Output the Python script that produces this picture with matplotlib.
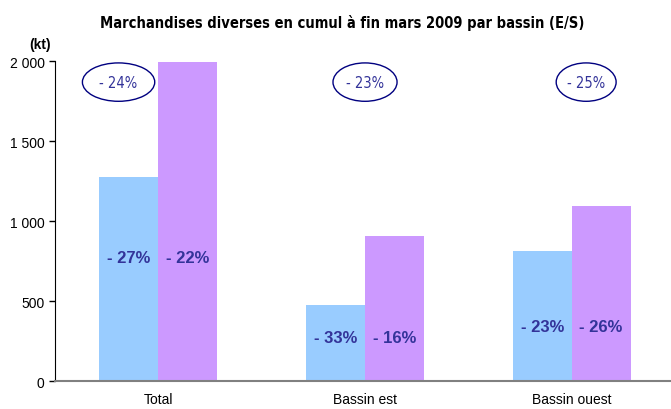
import matplotlib.pyplot as plt
from matplotlib.patches import Ellipse
import numpy as np

categories = ["Total", "Bassin est", "Bassin ouest"]
entrees = [1275, 475, 812]
sorties = [1995, 906, 1094]
lab_entrees = ["- 27%", "- 33%", "- 23%"]
lab_sorties = ["- 22%", "- 16%", "- 26%"]
lab_y = [775, 275, 344]
lab_total = ["- 24%", "- 23%", "- 25%"]
ell_w = [0.35, 0.31, 0.29]

plt.rcParams["font.family"] = ["Liberation Sans", "DejaVu Sans"]
narrow = dict(family="DejaVu Sans", fontstretch="condensed")

fig = plt.figure(figsize=(6.71, 4.10), dpi=100)
ax = fig.add_axes([0.082, 0.068, 0.924, 0.780])

x = np.arange(len(categories))
w = 0.285
ax.bar(x - w / 2, entrees, w, color="#99CCFF")
ax.bar(x + w / 2, sorties, w, color="#CC99FF")

for i in range(len(categories)):
    ax.text(x[i] - w / 2, lab_y[i], lab_entrees[i], ha="center", va="center",
            fontsize=12, fontweight="bold", color="#333399")
    ax.text(x[i] + w / 2, lab_y[i], lab_sorties[i], ha="center", va="center",
            fontsize=12, fontweight="bold", color="#333399")
    ex = x[i] - w / 2 - 0.05 if i == 0 else x[i]
    if i == 2:
        ex = x[i] + 0.07
    ax.add_patch(Ellipse((ex, 1870), ell_w[i], 240, fill=False,
                         edgecolor="#000080", lw=1, clip_on=False))
    ax.text(ex, 1865, lab_total[i], ha="center", va="center", fontsize=10.5,
            color="#333399", **narrow)

ax.set_xlim(-0.5, 2.5)
ax.set_ylim(0, 2000)
ax.set_yticks([0, 500, 1000, 1500, 2000])
ax.set_yticklabels(["0", "500", "1 000", "1 500", "2 000"], fontsize=10)
ax.set_xticks(x)
ax.set_xticklabels(categories, fontsize=10)
ax.tick_params(axis="x", length=0, pad=8)
ax.tick_params(axis="y", length=4, width=1, direction="out")
ax.spines["top"].set_visible(False)
ax.spines["right"].set_visible(False)
ax.spines["bottom"].set_color("#808080")
ax.spines["bottom"].set_linewidth(1.5)

fig.text(0.51, 0.944, "Marchandises diverses en cumul à fin mars 2009 par bassin (E/S)",
         ha="center", va="center", fontsize=10.5, fontweight="bold", **narrow)
fig.text(0.06, 0.89, "(kt)", ha="center", va="center", fontsize=10, fontweight="bold")

fig.savefig("out.png", dpi=100)
